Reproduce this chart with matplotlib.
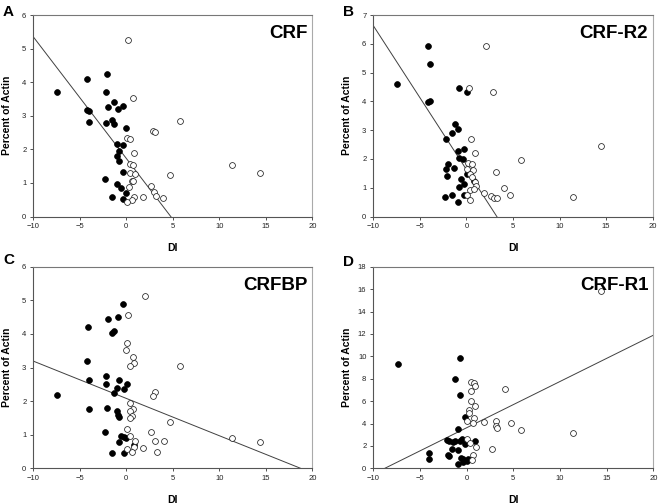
import matplotlib
matplotlib.use("Agg")
import matplotlib.pyplot as plt
import numpy as np

plt.rcParams['font.family'] = ['Liberation Sans', 'DejaVu Sans']

# ---------------- data ----------------
# Panel A: CRF
a_fill_x = [-7.49, -4.19, -2.08, -4.19, -3.98, -4.01, -2.15, -1.29, -1.97, -0.90, -0.39, -1.58, -1.36, -2.19,
            0.00, -1.00, -0.32, -0.75, -0.97, -0.79, -0.36, -2.33, -1.00, -0.61, -1.58, -0.04, -0.32]
a_fill_y = [3.70, 4.09, 4.23, 3.17, 3.15, 2.80, 3.72, 3.42, 3.26, 3.20, 3.28, 2.86, 2.76, 2.78,
            2.63, 2.16, 2.13, 1.95, 1.79, 1.64, 1.33, 1.13, 0.98, 0.86, 0.59, 0.71, 0.51]
a_open_x = [0.18, 0.72, 5.81, 2.83, 3.12, 0.11, 0.43, 0.82, 0.36, 0.72, 0.43, 0.93, 0.61, 0.75, 0.25,
            2.62, 3.01, 3.23, 3.98, 1.83, 0.82, 0.57, 0.04, 4.66, 11.40, 14.41]
a_open_y = [5.26, 3.53, 2.83, 2.55, 2.51, 2.33, 2.30, 1.89, 1.57, 1.53, 1.31, 1.28, 1.05, 1.05, 0.89,
            0.91, 0.72, 0.62, 0.54, 0.59, 0.57, 0.49, 0.44, 1.24, 1.53, 1.29]
a_fit = [1.73, -0.362]   # intercept, slope

# Panel B: CRF-R2
b_fill_x = [-7.41, -4.15, -3.94, -4.12, -3.90, -0.75, 0.04, -1.25, -0.90, -1.54, -2.15, -0.86, -0.21,
            -0.75, -0.39, -1.93, -2.15, -1.32, -2.04, 0.04, -0.54, 0.79, -0.75, -0.21, -1.54, -2.26,
            -0.25, -0.93]
b_fill_y = [4.62, 5.91, 5.30, 3.97, 4.02, 4.48, 4.31, 3.20, 3.04, 2.91, 2.70, 2.28, 2.34,
            2.03, 2.00, 1.84, 1.65, 1.68, 1.39, 1.49, 1.32, 1.24, 1.03, 1.12, 0.74, 0.68,
            0.74, 0.49]
b_open_x = [2.08, 0.25, 2.86, 0.47, 0.90, 3.15, 0.14, 0.57, 0.04, 0.75, 0.39, 0.64, 0.93, 1.00, 0.39,
            0.79, 0.07, 0.36, 1.90, 2.65, 3.00, 3.29, 4.05, 4.73, 5.87, 11.42, 14.43]
b_open_y = [5.91, 4.48, 4.31, 2.70, 2.22, 1.53, 1.87, 1.82, 1.66, 1.61, 1.47, 1.38, 1.21, 1.05, 0.92,
            0.94, 0.76, 0.56, 0.82, 0.72, 0.65, 0.63, 1.00, 0.73, 1.98, 0.68, 2.46]
b_fit = [1.63, -0.50]

# Panel C: CRFBP
c_fill_x = [-7.49, -4.16, -4.19, -3.98, -3.98, -1.94, -0.86, -0.36, -1.54, -1.29, -2.15, -2.15, -0.75,
            0.07, -1.00, -0.29, -1.36, -2.08, -1.00, -0.93, -0.75, -2.29, -0.57, -0.29, 0.00, -0.79,
            0.79, -1.54, -0.29]
c_fill_y = [2.17, 4.21, 3.20, 2.63, 1.76, 4.45, 4.51, 4.88, 4.04, 4.08, 2.74, 2.51, 2.63,
            2.52, 2.38, 2.37, 2.25, 1.78, 1.70, 1.59, 1.54, 1.09, 0.97, 0.93, 0.91, 0.79,
            0.69, 0.45, 0.47]
c_open_x = [2.01, 0.22, 0.11, 0.00, 0.75, 0.86, 0.43, 5.81, 3.12, 2.83, 0.36, 0.68, 0.43, 0.65, 0.43,
            4.70, 0.11, 2.62, 0.43, 0.93, 3.05, 4.01, 0.82, 1.83, 0.04, 0.61, 3.26, 11.40, 14.41]
c_open_y = [5.14, 4.55, 3.74, 3.52, 3.31, 3.12, 3.05, 3.05, 2.27, 2.16, 1.95, 1.76, 1.70, 1.55, 1.49,
            1.39, 1.18, 1.08, 0.97, 0.81, 0.81, 0.81, 0.63, 0.60, 0.57, 0.50, 0.49, 0.89, 0.77]
c_fit = [2.08, -0.111]

# Panel D: CRF-R1
d_fill_x = [-7.39, -0.71, -1.29, -0.71, -0.21, -0.89, -2.14, -1.93, -0.50, -0.71, -0.21, 0.86, -1.21,
            -1.54, -0.89, -1.43, -4.07, -4.07, -2.04, -1.89, -0.64, -0.36, 0.00, 0.18, -0.89, -0.36]
d_fill_y = [9.35, 9.85, 8.01, 6.55, 4.58, 3.51, 2.53, 2.47, 2.65, 2.47, 2.17, 2.47, 2.40,
            1.73, 1.61, 2.38, 1.37, 0.83, 1.22, 1.10, 0.92, 0.80, 0.68, 0.80, 0.42, 0.60]
d_open_x = [0.50, 0.79, 0.89, 0.50, 0.50, 0.89, 0.21, 0.25, 0.79, 0.71, 0.07, 1.89, 3.11, 3.11, 3.29,
            4.11, 4.75, 5.86, 11.43, 14.39, 2.71, 0.07, 0.36, 1.00, 0.68, 0.57]
d_open_y = [7.74, 7.59, 7.38, 6.88, 6.04, 5.57, 5.18, 4.97, 4.46, 4.08, 4.20, 4.14, 4.20, 3.78, 3.57,
            7.05, 4.02, 3.45, 3.18, 15.80, 1.70, 2.59, 2.23, 1.90, 1.19, 0.71]
d_fit = [3.62, 0.413]

panels = [
    dict(letter='A', title='CRF', fx=a_fill_x, fy=a_fill_y, ox=a_open_x, oy=a_open_y, fit=a_fit,
         ymax=6, ystep=1),
    dict(letter='B', title='CRF-R2', fx=b_fill_x, fy=b_fill_y, ox=b_open_x, oy=b_open_y, fit=b_fit,
         ymax=7, ystep=1),
    dict(letter='C', title='CRFBP', fx=c_fill_x, fy=c_fill_y, ox=c_open_x, oy=c_open_y, fit=c_fit,
         ymax=6, ystep=1),
    dict(letter='D', title='CRF-R1', fx=d_fill_x, fy=d_fill_y, ox=d_open_x, oy=d_open_y, fit=d_fit,
         ymax=18, ystep=2),
]
x_ticks = [-10, -5, 0, 5, 10, 15, 20]

# ---------------- layout ----------------
W, H = 661, 504
fig = plt.figure(figsize=(W / 100, H / 100), dpi=100)
boxes = [(33.3, 15.0, 312.3, 216.5), (373.3, 15.0, 652.7, 216.5),
         (33.3, 266.7, 312.3, 468.3), (373.3, 266.7, 653.3, 468.3)]
letter_pos = [(3, 16), (343, 16), (3, 264), (343, 266)]
ylabel_x = [12.5, 352.5, 12.5, 352.5]

for p, (l, t, r, b), (lx, ly), yx in zip(panels, boxes, letter_pos, ylabel_x):
    ax = fig.add_axes([l / W, 1 - b / H, (r - l) / W, (b - t) / H])
    xs = np.array([-10.0, 20.0])
    ax.plot(xs, p['fit'][0] + p['fit'][1] * xs, color='#404040', lw=0.7, zorder=2)
    ax.plot(p['fx'], p['fy'], 'o', ms=4.2, mfc='black', mec='black', mew=0.5, zorder=3)
    ax.plot(p['ox'], p['oy'], 'o', ms=4.2, mfc='white', mec='#222222', mew=0.55, zorder=3)
    ax.set_xlim(-10, 20)
    ax.set_ylim(0, p['ymax'])
    ax.set_xticks(x_ticks)
    ax.set_yticks(np.arange(0, p['ymax'] + 0.01, p['ystep']))
    ax.tick_params(direction='out', length=2.5, width=0.6, labelsize=5.5, pad=2.5,
                   colors='#333333', labelcolor='#222222')
    for side, col in [('left', '#555555'), ('bottom', '#555555'), ('top', '#777777'), ('right', '#aaaaaa')]:
        ax.spines[side].set_color(col)
        ax.spines[side].set_linewidth(0.8)
    ax.set_xlabel('DI', fontsize=7.5, fontweight='bold', labelpad=9)
    ax.set_ylabel('Percent of Actin', fontsize=7.5, fontweight='bold')
    ax.yaxis.set_label_coords((yx - l) / (r - l), 0.5)
    ax.text(0.983, 0.95, p['title'], transform=ax.transAxes, ha='right', va='top',
            fontsize=13.5, fontweight='bold')
    fig.text(lx / W, 1 - ly / H, p['letter'], ha='left', va='baseline', fontsize=11, fontweight='bold')

fig.savefig('out.png', dpi=100)
